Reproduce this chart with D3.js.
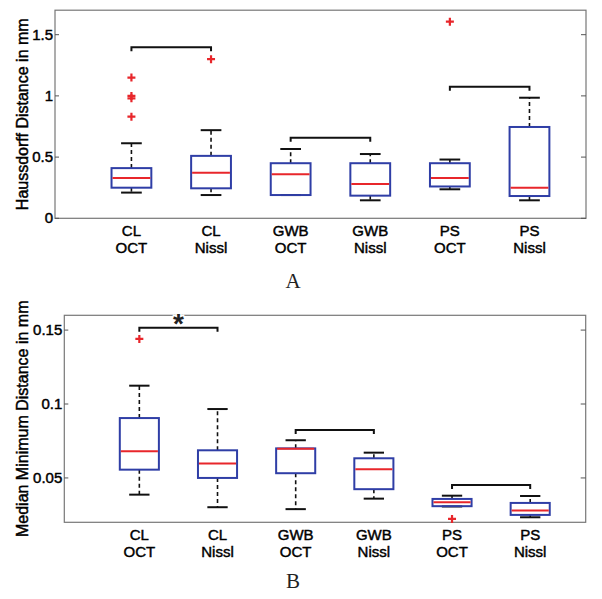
<!DOCTYPE html>
<html>
<head>
<meta charset="utf-8">
<script src="https://cdn.jsdelivr.net/npm/d3@7"></script>
<style>
  body { margin: 0; background: #fff; }
  text { font-family: "Liberation Sans", Arial, sans-serif; }
  text.lab { fill: #000; stroke: #000; stroke-width: 0.45px; }
</style>
</head>
<body>
<div id="chart"></div>
<script>
// categories (two-line tick labels)
const categories = [["CL", "OCT"], ["CL", "Nissl"], ["GWB", "OCT"], ["GWB", "Nissl"], ["PS", "OCT"], ["PS", "Nissl"]];

// panel A: Haussdorff distance
const hausLower = [0.21, 0.19, 0.19, 0.147, 0.237, 0.147];
const hausQ1 = [0.25, 0.245, 0.19, 0.185, 0.26, 0.182];
const hausMedian = [0.33, 0.373, 0.36, 0.28, 0.33, 0.25];
const hausQ3 = [0.41, 0.51, 0.45, 0.45, 0.45, 0.746];
const hausUpper = [0.613, 0.72, 0.566, 0.525, 0.48, 0.985];
const hausOutliers = [[0.83, 0.98, 1.0, 1.15], [1.30], [], [], [1.606], []];
const hausBrackets = [[0, 1, 1.397], [2, 3, 0.658], [4, 5, 1.075]];
const hausTicks = [0, 0.5, 1, 1.5];

// panel B: median minimum distance
const medLower = [0.0387, 0.0302, 0.0289, 0.036, 0.0307, 0.0234];
const medQ1 = [0.0556, 0.05, 0.0532, 0.0424, 0.0309, 0.025];
const medMedian = [0.068, 0.0597, 0.0698, 0.0559, 0.0336, 0.0279];
const medQ3 = [0.0905, 0.0687, 0.070, 0.0633, 0.0358, 0.0331];
const medUpper = [0.1124, 0.0966, 0.0755, 0.0671, 0.038, 0.0378];
const medOutliers = [[0.144], [], [], [], [0.0223], []];
const medBrackets = [[0, 1, 0.1516], [2, 3, 0.0824], [4, 5, 0.0453]];
const medTicks = [0.05, 0.1, 0.15];

const svg = d3.select("#chart").append("svg").attr("width", 602).attr("height", 599);

const blue = "#2f3ea6", red = "#e8262b";

function panel(o) {
  const g = svg.append("g");
  const x = d3.scaleLinear().domain([0.04, 6.71]).range([o.left, o.right]);
  const y = d3.scaleLinear().domain(o.domain).range([o.bottom, o.top]);
  const pos = i => x(i + 1);
  const rows = categories.map((c, i) => ({
    i, lw: o.lower[i], q1: o.q1[i], med: o.median[i], q3: o.q3[i], uw: o.upper[i], out: o.outliers[i]
  }));

  // frame
  g.append("rect")
    .attr("x", o.left).attr("y", o.top)
    .attr("width", o.right - o.left).attr("height", o.bottom - o.top)
    .attr("fill", "none").attr("stroke", "#777").attr("stroke-width", 1.2);

  // y ticks, inside on both sides
  o.ticks.forEach(t => {
    g.append("line").attr("x1", o.left).attr("x2", o.left + 4).attr("y1", y(t)).attr("y2", y(t)).attr("stroke", "#555");
    g.append("line").attr("x1", o.right - 5).attr("x2", o.right).attr("y1", y(t)).attr("y2", y(t)).attr("stroke", "#555");
    g.append("text").attr("class", "lab")
      .attr("x", o.left - 2).attr("y", y(t) + 5)
      .attr("text-anchor", "end").style("font-size", "15px")
      .text(d3.format("")(t));
  });

  // y label
  g.append("text").attr("class", "lab")
    .attr("transform", `translate(28,${(o.top + o.bottom) / 2}) rotate(-90)`)
    .attr("text-anchor", "middle").style("font-size", "16px")
    .text(o.label);

  // category labels
  rows.forEach(d => {
    categories[d.i].forEach((line, k) => {
      g.append("text").attr("class", "lab")
        .attr("x", pos(d.i)).attr("y", o.bottom + 18 + k * 17)
        .attr("text-anchor", "middle").style("font-size", "15px")
        .text(line);
    });
  });

  const half = x(0.25) - x(0), cap = x(0.13) - x(0);

  // whiskers
  const wg = g.selectAll("g.box").data(rows).enter().append("g").attr("class", "box");
  wg.append("line")
    .attr("x1", d => pos(d.i)).attr("x2", d => pos(d.i))
    .attr("y1", d => y(d.q3)).attr("y2", d => y(d.uw))
    .attr("stroke", "#111").attr("stroke-width", 1.6).attr("stroke-dasharray", "4,3");
  wg.append("line")
    .attr("x1", d => pos(d.i)).attr("x2", d => pos(d.i))
    .attr("y1", d => y(d.q1)).attr("y2", d => y(d.lw))
    .attr("stroke", "#111").attr("stroke-width", 1.6).attr("stroke-dasharray", "4,3");
  ["uw", "lw"].forEach(k => {
    wg.append("line")
      .attr("x1", d => pos(d.i) - cap).attr("x2", d => pos(d.i) + cap)
      .attr("y1", d => y(d[k])).attr("y2", d => y(d[k]))
      .attr("stroke", "#111").attr("stroke-width", 2);
  });

  // boxes
  wg.append("rect")
    .attr("x", d => pos(d.i) - half).attr("width", 2 * half)
    .attr("y", d => y(d.q3)).attr("height", d => y(d.q1) - y(d.q3))
    .attr("fill", "none").attr("stroke", blue).attr("stroke-width", 2);
  wg.append("line")
    .attr("x1", d => pos(d.i) - half + 1).attr("x2", d => pos(d.i) + half - 1)
    .attr("y1", d => y(d.med)).attr("y2", d => y(d.med))
    .attr("stroke", red).attr("stroke-width", 2);

  // outliers
  rows.forEach(d => {
    d.out.forEach(v => {
      g.append("path")
        .attr("d", `M${pos(d.i) - 4},${y(v)}h8M${pos(d.i)},${y(v) - 4}v8`)
        .attr("stroke", red).attr("stroke-width", 2.2).attr("fill", "none");
    });
  });

  // significance brackets
  o.brackets.forEach(b => {
    const x1 = pos(b[0]), x2 = pos(b[1]), yy = y(b[2]);
    g.append("path")
      .attr("d", `M${x1},${yy + 4}V${yy}H${x2}V${yy + 4}`)
      .attr("stroke", "#111").attr("stroke-width", 2).attr("fill", "none");
  });

  if (o.star) {
    const b = o.brackets[0];
    g.append("text")
      .attr("x", (pos(b[0]) + pos(b[1])) / 2).attr("y", o.top + 18)
      .attr("text-anchor", "middle")
      .style("font-size", "28px").style("font-weight", "bold").style("fill", "#222")
      .style("stroke", "#fff").style("stroke-width", 3).style("paint-order", "stroke")
      .text("*");
  }

  svg.append("text")
    .attr("x", o.tagX).attr("y", o.tagY)
    .attr("text-anchor", "middle")
    .style("font-family", "'Liberation Serif', 'DejaVu Serif', serif")
    .style("font-size", "21px").style("fill", "#222")
    .text(o.tag);
}

panel({
  left: 55, right: 586, top: 10.2, bottom: 218.3, domain: [0, 1.7],
  lower: hausLower, q1: hausQ1, median: hausMedian, q3: hausQ3, upper: hausUpper,
  outliers: hausOutliers, brackets: hausBrackets, ticks: hausTicks,
  label: "Haussdorff Distance in mm", tag: "A", tagX: 293, tagY: 288, star: false
});

panel({
  left: 64.3, right: 585.7, top: 315.3, bottom: 522.3, domain: [0.02, 0.16],
  lower: medLower, q1: medQ1, median: medMedian, q3: medQ3, upper: medUpper,
  outliers: medOutliers, brackets: medBrackets, ticks: medTicks,
  label: "Median Minimum Distance in mm", tag: "B", tagX: 293, tagY: 588, star: true
});
</script>
</body>
</html>
